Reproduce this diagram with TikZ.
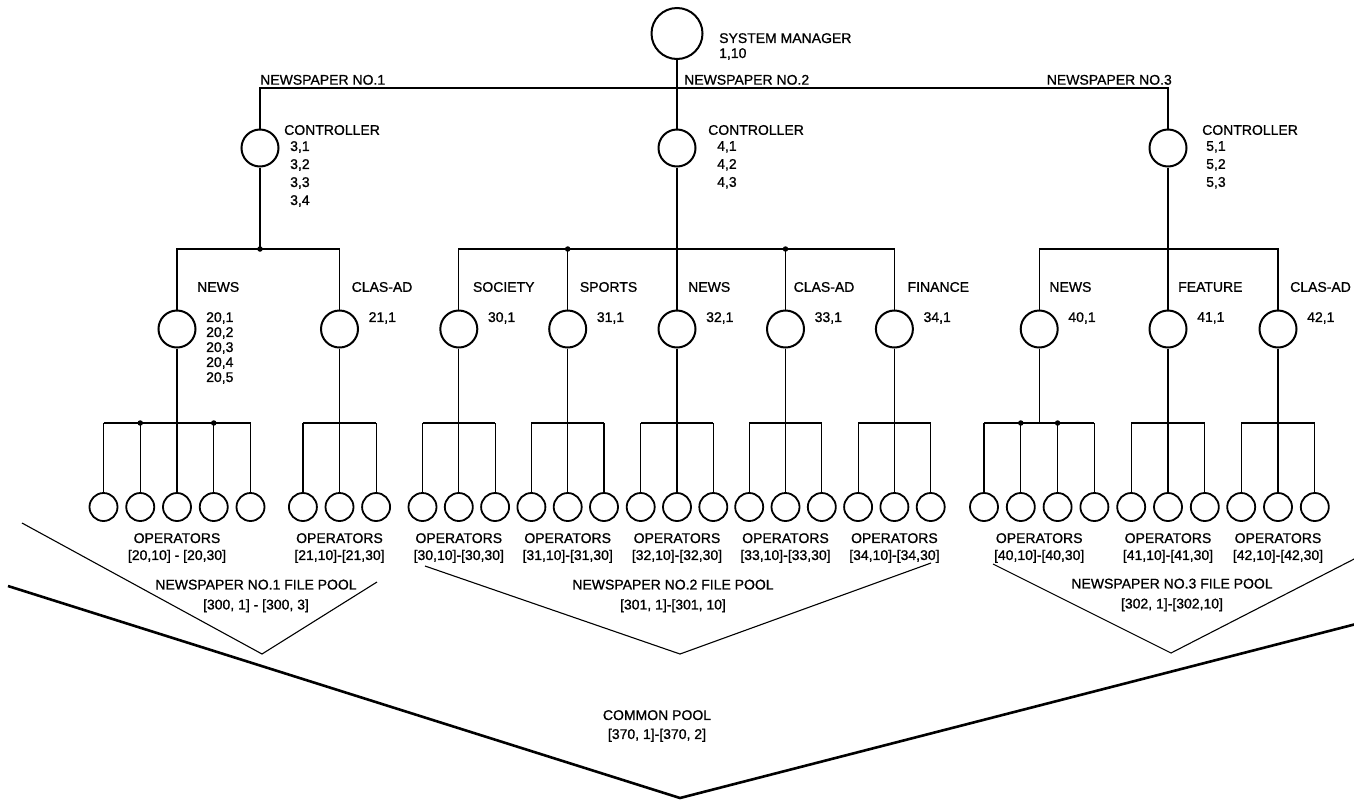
\documentclass[tikz,border=0pt]{standalone}
\usepackage{fontspec}
\setmainfont{Liberation Sans}[RawFeature={embolden=0.9}]
\usetikzlibrary{positioning}

\begin{document}
\begin{tikzpicture}[x=1pt, y=-1pt,
    every node/.style={font=\fontsize{14}{17}\selectfont},
    mgr/.style={circle, draw, line width=2pt, minimum size=51pt, inner sep=0pt},
    ctrl/.style={circle, draw, line width=2pt, minimum size=37pt, inner sep=0pt},
    oper/.style={circle, draw, line width=1.8pt, minimum size=28pt, inner sep=0pt},
    tag/.style={inner sep=0pt, anchor=west},
    stack/.style={inner sep=0pt, anchor=north west, align=left},
    oplbl/.style={inner sep=0pt, anchor=north, align=center},
    poollbl/.style={inner sep=0pt, align=center, font=\fontsize{14}{20}\selectfont},
    wire/.style={line width=1.2pt},
    pool/.style={line width=1.1pt},
    common/.style={line width=2.6pt},
    jn/.style={circle, fill, inner sep=0pt, minimum size=5.5pt}]

    \useasboundingbox (0,0) rectangle (1354,801);

    % levels of the buses
    \coordinate (lvl1) at (0,88);
    \coordinate (lvl2) at (0,249);
    \coordinate (lvl3) at (0,423);

    % manager and controllers
    \node[mgr] (sm) at (677,33.5) {};
    \node[stack, font=\fontsize{14}{15}\selectfont] (smt) at (719,33) {SYSTEM MANAGER\\1,10};

    \node[ctrl] (c1) at (260,148) {};
    \node[ctrl] (c2) at (677,148) {};
    \node[ctrl] (c3) at (1168,148) {};

    \node[inner sep=0pt, anchor=south west] (n1t) at (260,85) {NEWSPAPER NO.1};
    \node[inner sep=0pt, anchor=south west] (n2t) at (684,85) {NEWSPAPER NO.2};
    \node[inner sep=0pt, anchor=south east] (n3t) at (1172,85) {NEWSPAPER NO.3};

    \node[tag] (c1t) at (284,130) {CONTROLLER};
    \node[stack, font=\fontsize{14}{18}\selectfont] (c1v) at (290,141) {3,1\\3,2\\3,3\\3,4};
    \node[tag] (c2t) at (708,130) {CONTROLLER};
    \node[stack, font=\fontsize{14}{18}\selectfont] (c2v) at (717,141) {4,1\\4,2\\4,3};
    \node[tag] (c3t) at (1202,130) {CONTROLLER};
    \node[stack, font=\fontsize{14}{18}\selectfont] (c3v) at (1206,141) {5,1\\5,2\\5,3};

    \draw[wire] (c1.north) -- (c1.north |- lvl1) -- (c3.north |- lvl1) -- (c3.north);
    \draw[wire] (sm.south) -- (c2.north);

    % departments with their operators
    \foreach \dep/\x/\n/\s/\lbl/\dx/\vals/\ops in {
        d1a/177/5/36.75/NEWS/20/{20,1\\20,2\\20,3\\20,4\\20,5}/{[20,10] - [20,30]},
        d1b/339.5/3/36.6/CLAS-AD/12/{21,1}/{[21,10]-[21,30]},
        d2a/458.8/3/36.3/SOCIETY/14/{30,1}/{[30,10]-[30,30]},
        d2b/567.7/3/36.3/SPORTS/12/{31,1}/{[31,10]-[31,30]},
        d2c/677/3/36.3/NEWS/11/{32,1}/{[32,10]-[32,30]},
        d2d/785.5/3/36.3/CLAS-AD/8/{33,1}/{[33,10]-[33,30]},
        d2e/894.4/3/36.3/FINANCE/13/{34,1}/{[34,10]-[34,30]},
        d3a/1039.2/4/36.8/NEWS/10/{40,1}/{[40,10]-[40,30]},
        d3b/1168/3/36.8/FEATURE/10/{41,1}/{[41,10]-[41,30]},
        d3c/1278/3/36.8/CLAS-AD/12/{42,1}/{[42,10]-[42,30]}} {
      \node[ctrl] (\dep) at (\x,329) {};
      \node[tag] (\dep-t) at (\x+\dx,287) {\lbl};
      \node[stack, font=\fontsize{14}{15}\selectfont] (\dep-v) at (\x+29,312) {\vals};
      \foreach \i in {1,...,\n} {
        \node[oper] (\dep-\i) at ({\x+(\i-(\n+1)/2)*\s},507) {};
        \draw[wire] (\dep-\i.north) -- (\dep-\i.north |- lvl3);
      }
      \draw[wire] (\dep-1.north |- lvl3) -- (\dep-\n.north |- lvl3);
      \draw[wire] (\dep.south) -- (\dep.south |- lvl3);
      \node[oplbl] (\dep-o) at (\x,533) {OPERATORS\\{}\ops};
    }

    % controller buses
    \draw[wire] (d1a.north) -- (d1a.north |- lvl2) -- (d1b.north |- lvl2) -- (d1b.north);
    \draw[wire] (c1.south) -- (c1.south |- lvl2);
    \draw[wire] (d2a.north) -- (d2a.north |- lvl2) -- (d2e.north |- lvl2) -- (d2e.north);
    \draw[wire] (d2b.north) -- (d2b.north |- lvl2);
    \draw[wire] (d2d.north) -- (d2d.north |- lvl2);
    \draw[wire] (c2.south) -- (d2c.north);
    \draw[wire] (d3a.north) -- (d3a.north |- lvl2) -- (d3c.north |- lvl2) -- (d3c.north);
    \draw[wire] (c3.south) -- (d3b.north);

    \node[jn] (j1) at (c1.south |- lvl2) {};
    \node[jn] (j2) at (d2b.north |- lvl2) {};
    \node[jn] (j3) at (d2d.north |- lvl2) {};
    \node[jn] (j4) at (d1a-2.north |- lvl3) {};
    \node[jn] (j5) at (d1a-4.north |- lvl3) {};
    \node[jn] (j6) at (d3a-2.north |- lvl3) {};
    \node[jn] (j7) at (d3a-3.north |- lvl3) {};

    % file pools
    \coordinate (p1l) at (22,523);
    \coordinate (p1v) at (262,654);
    \coordinate (p1r) at (377,582);
    \coordinate (p2l) at (425,566);
    \coordinate (p2v) at (680,654);
    \coordinate (p2r) at (931,563);
    \coordinate (p3l) at (993,564);
    \coordinate (p3v) at (1171,653);
    \coordinate (p3r) at (1360,556);
    \coordinate (cpl) at (8,586);
    \coordinate (cpv) at (680,798);
    \coordinate (cpr) at (1360,623);

    \draw[pool] (p1l) -- (p1v) -- (p1r);
    \draw[pool] (p2l) -- (p2v) -- (p2r);
    \draw[pool] (p3l) -- (p3v) -- (p3r);
    \draw[common] (cpl) -- (cpv) -- (cpr);

    \node[poollbl] (p1t) at (256,596) {NEWSPAPER NO.1 FILE POOL\\{}[300, 1] - [300, 3]};
    \node[poollbl] (p2t) at (673,596) {NEWSPAPER NO.2 FILE POOL\\{}[301, 1]-[301, 10]};
    \node[poollbl] (p3t) at (1172,595) {NEWSPAPER NO.3 FILE POOL\\{}[302, 1]-[302,10]};
    \node[poollbl, font=\fontsize{14}{19}\selectfont] (cpt) at (657,726) {COMMON POOL\\{}[370, 1]-[370, 2]};
\end{tikzpicture}
\end{document}
